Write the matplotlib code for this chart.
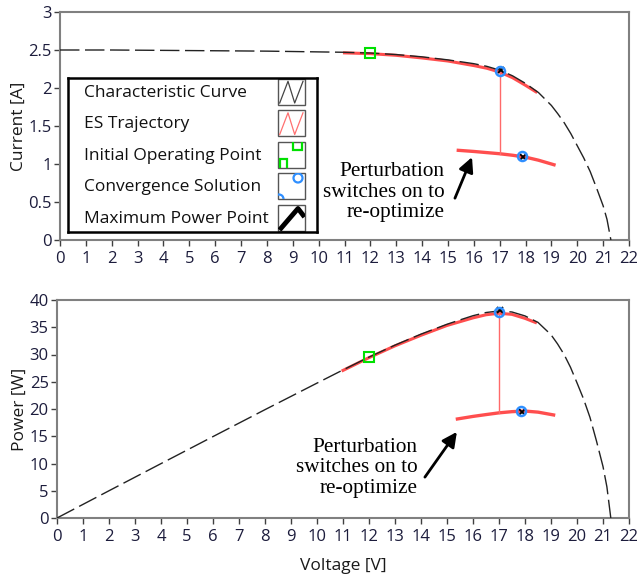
import numpy as np
import matplotlib as mpl
import matplotlib.pyplot as plt
from matplotlib.patches import Rectangle, Circle

# PV characteristic curve (voltage [V], current [A])
v_curve = [0, 2, 4, 6, 8, 10, 11, 12, 13, 14, 15, 15.5, 16, 16.5, 17, 17.5,
           18, 18.5, 19, 19.25, 19.5, 19.75, 20, 20.25, 20.5, 20.75, 21, 21.15, 21.3]
i_curve = [2.50, 2.50, 2.495, 2.49, 2.485, 2.475, 2.47, 2.46, 2.44, 2.41, 2.37, 2.345,
           2.32, 2.285, 2.235, 2.16, 2.06, 1.94, 1.77, 1.66, 1.54, 1.40, 1.24, 1.08,
           0.90, 0.68, 0.45, 0.27, 0.0]

# ES trajectory, before and after the perturbation
es_v_up = [11.0, 12, 13, 14, 15, 16, 16.5, 17, 17.5, 18, 18.4]
es_i_up = [2.462, 2.452, 2.43, 2.395, 2.355, 2.295, 2.26, 2.21, 2.135, 2.035, 1.95]
es_v_lo = [15.4, 16, 16.5, 17, 17.5, 18, 18.5, 19.1]
es_i_lo = [1.18, 1.165, 1.15, 1.135, 1.115, 1.09, 1.05, 0.99]
v_jump = 17.0

# special points
v_init, i_init = 12.0, 2.46
v_conv = [17.0, 17.85]
i_conv = [2.22, 1.10]
v_mpp = [17.05, 17.9]
i_mpp = [2.24, 1.09]

legend_labels = ["Characteristic Curve", "ES Trajectory", "Initial Operating Point",
                 "Convergence Solution", "Maximum Power Point"]
annot = "Perturbation\nswitches on to\nre-optimize"


def pw(v, i):
    return list(np.array(v) * np.array(i))


UI = "Open Sans"
TICKC = "#1c1c3c"
SPINEC = "#808080"
RED = "#ff3b3b"
GREEN = "#00e000"
BLUE = "#2f8fff"

mpl.rcParams['font.family'] = UI
mpl.rcParams['font.size'] = 12.5

fig = plt.figure(figsize=(6.37, 5.79), dpi=100)
W, H = 637.0, 579.0
ax1 = fig.add_axes([60/W, 1-240/H, (629-60)/W, (240-12)/H])
ax2 = fig.add_axes([57/W, 1-518/H, (629-57)/W, (518-300)/H])


def style(ax, ylim, yticks):
    ax.set_xlim(0, 22)
    ax.set_ylim(*ylim)
    ax.set_xticks(range(0, 23))
    ax.set_yticks(yticks)
    for s in ax.spines.values():
        s.set_color(SPINEC)
        s.set_linewidth(1.5)
    ax.tick_params(direction='out', length=4, width=1, color='#404040',
                   labelcolor=TICKC, labelsize=12, pad=2)
    ax.tick_params(axis='x', pad=4)


def draw(ax, f):
    ax.plot(v_curve, f(v_curve, i_curve), color='#222222', lw=1.0,
            dashes=(14, 4), zorder=4)
    ax.plot(es_v_up, f(es_v_up, es_i_up), color=RED, lw=2.2, alpha=0.9, zorder=3)
    ax.plot(es_v_lo, f(es_v_lo, es_i_lo), color=RED, lw=2.4, alpha=0.9, zorder=3)
    top = f([v_jump], [np.interp(v_jump, es_v_up, es_i_up)])[0]
    bot = f([v_jump], [np.interp(v_jump, es_v_lo, es_i_lo)])[0]
    ax.plot([v_jump, v_jump], [top, bot], color='#ff6a6a', lw=1.0, zorder=3)
    ax.plot([v_init], f([v_init], [i_init]), 's', ms=6.5, mfc='none', mec=GREEN,
            mew=1.5, zorder=5)
    ax.plot(v_mpp, f(v_mpp, i_mpp), 'x', ms=5, mec='k', mew=1.3, zorder=6)
    ax.plot(v_conv, f(v_conv, i_conv), 'o', ms=6.5, mfc='none', mec=BLUE,
            mew=1.8, zorder=7)


draw(ax1, lambda v, i: list(i))
draw(ax2, pw)

style(ax1, (0, 3), [0, 0.5, 1, 1.5, 2, 2.5, 3])
ax1.set_yticklabels(["0", "0.5", "1", "1.5", "2", "2.5", "3"])
style(ax2, (0, 40), range(0, 41, 5))
ax1.set_ylabel("Current [A]", color='#1a1a1a', labelpad=1)
ax2.set_ylabel("Power [W]", color='#1a1a1a', labelpad=1)
ax2.set_xlabel("Voltage [V]", color='#1a1a1a', labelpad=9)

# annotations
ax1.annotate("", xy=(15.93, 1.09), xytext=(15.27, 0.55),
             arrowprops=dict(arrowstyle='-|>', color='k', lw=2, mutation_scale=22,
                             shrinkA=0, shrinkB=0))
ax1.text(14.88, 0.63, annot, ha='right', va='center', family='Liberation Serif',
         fontsize=15.3, linespacing=1.12)
ax2.annotate("", xy=(15.38, 15.8), xytext=(14.15, 7.5),
             arrowprops=dict(arrowstyle='-|>', color='k', lw=2, mutation_scale=22,
                             shrinkA=0, shrinkB=0))
ax2.text(13.88, 9.2, annot, ha='right', va='center', family='Liberation Serif',
         fontsize=15.3, linespacing=1.12)

# legend drawn by hand in its own axes (pixel units inside the box)
lg = fig.add_axes([68/W, 1-232/H, (317-68)/W, (232-78)/H])
lg.set_xlim(0, 249)
lg.set_ylim(154, 0)
lg.set_xticks([])
lg.set_yticks([])
for s in lg.spines.values():
    s.set_color('k')
    s.set_linewidth(1.8)
lg.set_zorder(10)

box_x, box_w, box_h = 210, 27, 26
for k, lab in enumerate(legend_labels):
    yt = 1 + k * 31.5
    lg.text(16, yt + 14, lab, va='center', ha='left', fontsize=12.5, color='#111111')
    box = Rectangle((box_x, yt), box_w, box_h, fill=False, ec='#555555', lw=1.0)
    lg.add_patch(box)
    arts = []
    if k in (0, 1):
        c = '#444444' if k == 0 else '#ff7070'
        arts += lg.plot([box_x+1.7, box_x+10, box_x+16.7, box_x+25],
                        [yt+24, yt+2.3, yt+24, yt+2.3], color=c, lw=0.9)
    elif k == 2:
        for (x0, y0, w, h) in [(box_x+1.7, yt+17, 7, 12), (box_x+15, yt-4, 9, 12)]:
            r = Rectangle((x0, y0), w, h, fill=False, ec=GREEN, lw=1.6)
            lg.add_patch(r)
            arts.append(r)
    elif k == 3:
        for (x0, y0) in [(box_x+1, yt+25.5), (box_x+20, yt+4.5)]:
            cc = Circle((x0, y0), 4.5, fill=False, ec=BLUE, lw=1.6)
            lg.add_patch(cc)
            arts.append(cc)
    else:
        arts += lg.plot([box_x+1.5, box_x+20, box_x+26.5],
                        [yt+25, yt+3.5, yt+12], color='k', lw=3.5,
                        solid_capstyle='butt')
    for a in arts:
        a.set_clip_path(box)

fig.savefig("out.png", dpi=100)
